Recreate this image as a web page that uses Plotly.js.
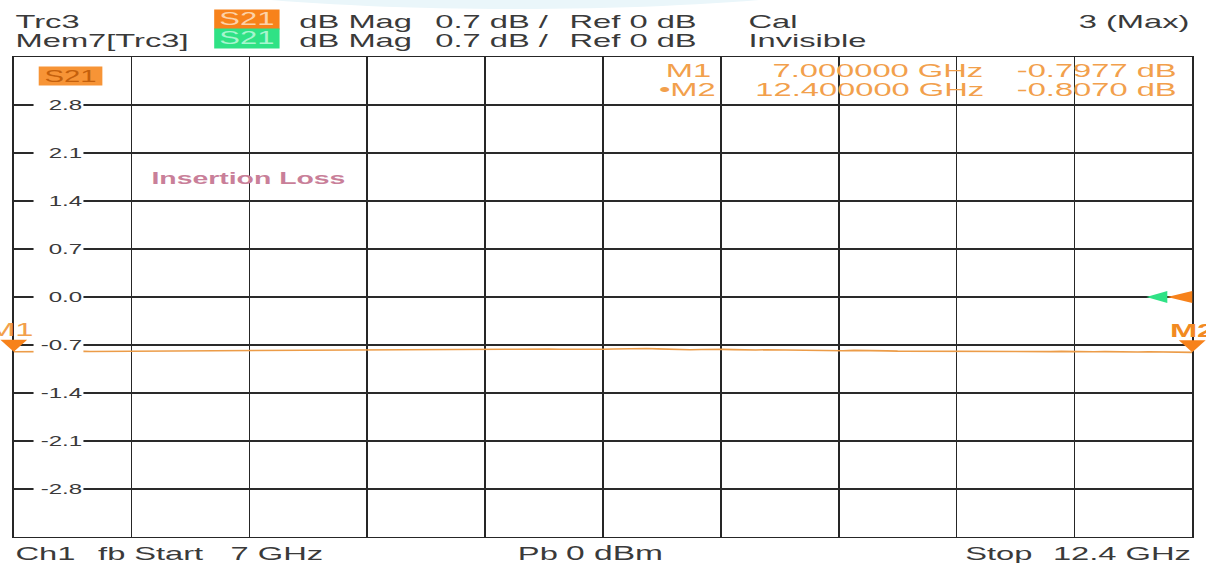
<!DOCTYPE html>
<html>
<head>
<meta charset="utf-8">
<script src="https://cdn.plot.ly/plotly-3.0.1.min.js"></script>
<style>
  html, body { margin: 0; padding: 0; background: #ffffff; overflow: hidden; }
  #wrap { width: 1206px; height: 563px; overflow: hidden; }
  #chart { width: 701px; height: 563px; transform-origin: 0 0; transform: scale(1.72040, 1); }
</style>
</head>
<body>
<div id="wrap"><div id="chart"></div></div>
<script>
// ---------------- data ----------------
const freqGHz = [7.00, 7.05, 7.10, 7.15, 7.20, 7.25, 7.30, 7.35, 7.40, 7.45,
                 7.50, 7.55, 7.60, 7.65, 7.70, 7.75, 7.80, 7.85, 7.90, 7.95,
                 8.00, 8.05, 8.10, 8.15, 8.20, 8.25, 8.30, 8.35, 8.40, 8.45,
                 8.50, 8.55, 8.60, 8.65, 8.70, 8.75, 8.80, 8.85, 8.90, 8.95,
                 9.00, 9.05, 9.10, 9.15, 9.20, 9.25, 9.30, 9.35, 9.40, 9.45,
                 9.50, 9.55, 9.60, 9.65, 9.70, 9.75, 9.80, 9.85, 9.90, 9.95,
                 10.00, 10.05, 10.10, 10.15, 10.20, 10.25, 10.30, 10.35, 10.40, 10.45,
                 10.50, 10.55, 10.60, 10.65, 10.70, 10.75, 10.80, 10.85, 10.90, 10.95,
                 11.00, 11.05, 11.10, 11.15, 11.20, 11.25, 11.30, 11.35, 11.40, 11.45,
                 11.50, 11.55, 11.60, 11.65, 11.70, 11.75, 11.80, 11.85, 11.90, 11.95,
                 12.00, 12.05, 12.10, 12.15, 12.20, 12.25, 12.30, 12.35, 12.40];
const s21dB = [-0.798, -0.794, -0.792, -0.797, -0.795, -0.790, -0.789, -0.794, -0.793, -0.788,
               -0.786, -0.791, -0.790, -0.785, -0.784, -0.789, -0.787, -0.783, -0.781, -0.785,
               -0.778, -0.781, -0.783, -0.778, -0.775, -0.774, -0.771, -0.774, -0.768, -0.770,
               -0.772, -0.767, -0.764, -0.769, -0.767, -0.763, -0.762, -0.765, -0.766, -0.761,
               -0.760, -0.765, -0.764, -0.760, -0.758, -0.761, -0.763, -0.759, -0.757, -0.760,
               -0.761, -0.764, -0.766, -0.762, -0.763, -0.758, -0.755, -0.751, -0.752, -0.757,
               -0.762, -0.768, -0.770, -0.765, -0.761, -0.764, -0.768, -0.772, -0.774, -0.769,
               -0.771, -0.777, -0.780, -0.778, -0.776, -0.781, -0.783, -0.779, -0.778, -0.784,
               -0.786, -0.789, -0.790, -0.786, -0.784, -0.789, -0.792, -0.790, -0.787, -0.792,
               -0.795, -0.793, -0.790, -0.795, -0.798, -0.796, -0.793, -0.798, -0.801, -0.798,
               -0.796, -0.800, -0.803, -0.801, -0.799, -0.803, -0.805, -0.804, -0.807];
const markerNames = ['M1', 'M2'];
const markerFreq = [7.0, 12.4];
const markerVal = [-0.7977, -0.8070];
const markerFreqText = ['7.000000 GHz', '12.400000 GHz'];
const markerValText = ['-0.7977 dB', '-0.8070 dB'];
const yTickVals = [2.8, 2.1, 1.4, 0.7, 0.0, -0.7, -1.4, -2.1, -2.8];
const yTickText = ['2.8', '2.1', '1.4', '0.7', '0.0', '-0.7', '-1.4', '-2.1', '-2.8'];
const xStart = 7.0, xStop = 12.4, xDiv = 0.54;
const yMin = -3.5, yMax = 3.5, yDiv = 0.7;
const refLevel = 0;

// ---------------- layout helpers ----------------
const W0 = 701, H0 = 563, SX = 1206 / W0;
const ML = 8, MR = 8, MT = 57, MB = 26;
const PW = W0 - ML - MR, PH = H0 - MT - MB;
function px(xd) { return (xd / SX - ML) / PW; }
function py(yd) { return (H0 - MB - yd) / PH; }
const FONT = 'Liberation Sans, Arial, sans-serif';
const GREY = '#3a3a3a';
const ORANGE = '#f7821b';
const ORANGE_TXT = '#f2a04c';
const GREEN = '#2fe285';

function txt(text, xd, yd, anchor, size, color, extra) {
  return Object.assign({
    text: text, xref: 'paper', yref: 'paper', x: px(xd), y: py(yd),
    xanchor: anchor, yanchor: 'middle', showarrow: false, borderpad: 0,
    font: { family: FONT, size: size, color: color }
  }, extra || {});
}

const ann = [];
// header
ann.push(txt('Trc3', 14, 21, 'left', 19, GREY));
ann.push(txt('Mem7[Trc3]', 14, 40, 'left', 19, GREY));
ann.push(txt('S21', 213, 19.5, 'left', 18, '#fcd2a8', { bgcolor: ORANGE, width: 37, height: 19, align: 'center' }));
ann.push(txt('S21', 213, 39, 'left', 18, '#a8f5cf', { bgcolor: GREEN, width: 37, height: 19, align: 'center' }));
ann.push(txt('dB Mag', 297, 21, 'left', 19, GREY));
ann.push(txt('dB Mag', 297, 40, 'left', 19, GREY));
ann.push(txt('0.7 dB /', 433, 21, 'left', 19, GREY));
ann.push(txt('0.7 dB /', 433, 40, 'left', 19, GREY));
ann.push(txt('Ref 0 dB', 568, 21, 'left', 19, GREY));
ann.push(txt('Ref 0 dB', 568, 40, 'left', 19, GREY));
ann.push(txt('Cal', 747, 21, 'left', 19, GREY));
ann.push(txt('Invisible', 747, 40, 'left', 19, GREY));
ann.push(txt('3 (Max)', 1190, 21, 'right', 19, GREY));
// bottom
ann.push(txt('Ch1', 14, 553, 'left', 19, GREY));
ann.push(txt('fb', 96, 553, 'left', 19, GREY));
ann.push(txt('Start', 132, 553, 'left', 19, GREY));
ann.push(txt('7 GHz', 228, 553, 'left', 19, GREY));
ann.push(txt('Pb', 516, 553, 'left', 19, GREY));
ann.push(txt('0 dBm', 565, 553, 'left', 19.5, GREY));
ann.push(txt('Stop', 964, 553, 'left', 19, GREY));
ann.push(txt('12.4 GHz', 1192, 553, 'right', 19, GREY));
// trace label
ann.push(txt('S21', 38, 76, 'left', 17, '#c4600c', { bgcolor: '#f79436', width: 36, height: 18, align: 'center' }));
ann.push(txt('Insertion Loss', 150, 178, 'left', 16, '#c97f99', { font: { family: FONT, size: 16.5, color: '#c97f99', weight: 'bold' } }));
// marker readout
const rowY = [70, 89];
const nameRight = [712, 718];
for (let i = 0; i < markerNames.length; i++) {
  ann.push(txt((i === 1 ? '\u2022' : '') + markerNames[i], nameRight[i], rowY[i], 'right', 19, ORANGE_TXT));
  ann.push(txt(markerFreqText[i], 985, rowY[i], 'right', 19, ORANGE_TXT));
  ann.push(txt(markerValText[i], 1178, rowY[i], 'right', 19, ORANGE_TXT));
}
// y tick labels (inside, interrupting the grid)
for (let i = 0; i < yTickVals.length; i++) {
  ann.push({
    text: yTickText[i], xref: 'paper', yref: 'y', x: px(33), y: yTickVals[i],
    xanchor: 'left', yanchor: 'middle', showarrow: false, width: 28, height: 15,
    align: 'right', bgcolor: '#ffffff', borderpad: 0,
    font: { family: FONT, size: 14, color: GREY }
  });
}
// marker labels above triangles
const shapes = [];
for (let i = 0; i < markerNames.length; i++) {
  const xp = (markerFreq[i] - xStart) / (xStop - xStart);
  ann.push({
    text: markerNames[i], xref: 'paper', yref: 'y', x: xp, y: markerVal[i],
    xanchor: 'center', yanchor: 'middle', yshift: 22, xshift: i === 0 ? -2.5 : 0,
    showarrow: false,
    font: { family: FONT, size: 19, color: i === 1 ? '#f28a22' : ORANGE_TXT, weight: i === 1 ? 'bold' : 'normal' }
  });
  shapes.push({
    type: 'path', xref: 'paper', yref: 'y', xsizemode: 'pixel', ysizemode: 'pixel',
    xanchor: xp, yanchor: markerVal[i],
    path: 'M -7.8 12 L 7.8 12 L 0 0 Z',
    fillcolor: ORANGE, line: { width: 0 }, layer: 'above'
  });
}
// reference level arrows
shapes.push({
  type: 'path', xref: 'paper', yref: 'y', xsizemode: 'pixel', ysizemode: 'pixel',
  xanchor: 1, yanchor: refLevel, path: 'M 0 6 L 0 -6 L -14.5 0 Z',
  fillcolor: ORANGE, line: { width: 0 }, layer: 'above'
});
shapes.push({
  type: 'path', xref: 'paper', yref: 'y', xsizemode: 'pixel', ysizemode: 'pixel',
  xanchor: 1, yanchor: refLevel, path: 'M -14.5 6 L -14.5 -6 L -26.7 0 Z',
  fillcolor: GREEN, line: { width: 0 }, layer: 'above'
});
// faint watermark arc at the top
shapes.push({
  type: 'circle', xref: 'paper', yref: 'paper', layer: 'below',
  x0: px(130), x1: px(900), y0: py(9), y1: py(-70),
  fillcolor: '#eaf6fa', line: { width: 0 }
});

const trace = {
  x: freqGHz, y: s21dB, type: 'scatter', mode: 'lines',
  line: { color: '#ec9c48', width: 1.6 }, hoverinfo: 'skip'
};

const layout = {
  width: W0, height: H0,
  margin: { l: ML, r: MR, t: MT, b: MB, pad: 0 },
  paper_bgcolor: '#ffffff', plot_bgcolor: '#ffffff',
  showlegend: false,
  xaxis: {
    range: [xStart, xStop], tick0: xStart, dtick: xDiv, showgrid: true,
    gridcolor: '#262626', gridwidth: 1, showticklabels: false, ticks: '',
    zeroline: false, showline: true, mirror: true, linecolor: '#262626', linewidth: 1,
    fixedrange: true
  },
  yaxis: {
    range: [yMin, yMax], tick0: 0, dtick: yDiv, showgrid: true,
    gridcolor: '#2a2a2a', gridwidth: 1.2, showticklabels: false, ticks: '',
    zeroline: false, showline: true, mirror: true, linecolor: '#262626', linewidth: 1,
    fixedrange: true
  },
  annotations: ann,
  shapes: shapes
};

Plotly.newPlot('chart', [trace], layout, { staticPlot: true, displayModeBar: false });
</script>
</body>
</html>
